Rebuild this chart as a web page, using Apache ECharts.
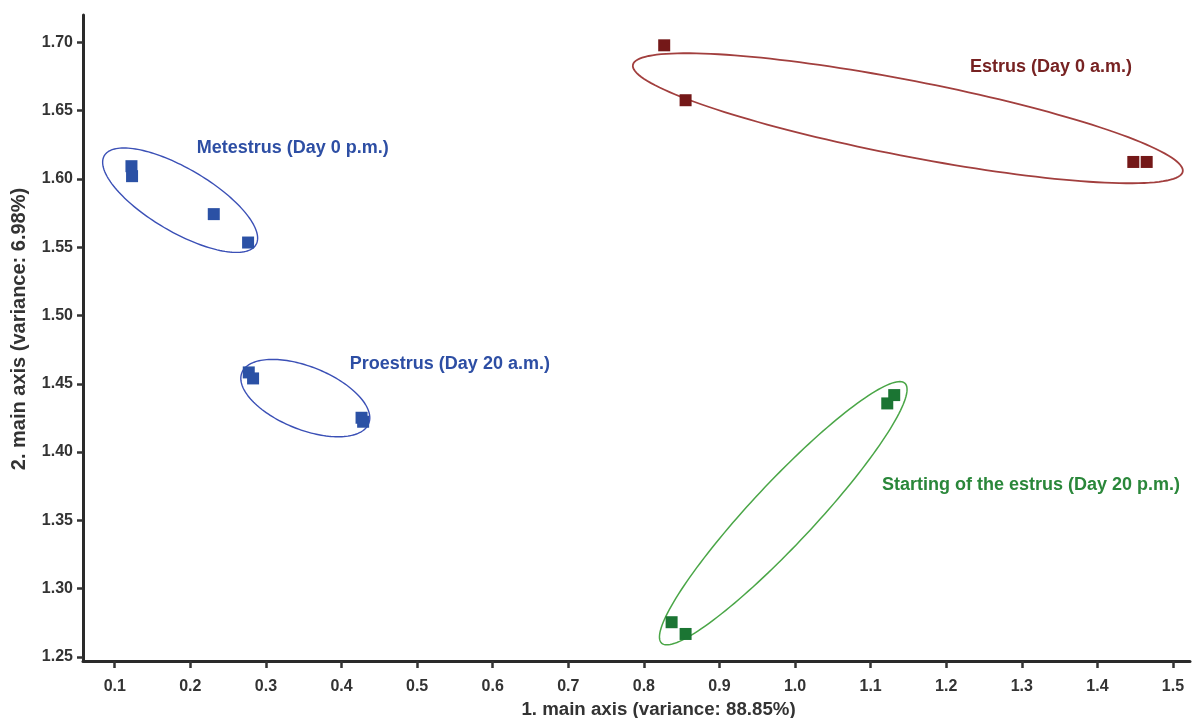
<!DOCTYPE html>
<html><head><meta charset="utf-8">
<script src="https://cdn.jsdelivr.net/npm/echarts@6/dist/echarts.min.js"></script>
<style>html,body{margin:0;padding:0;background:#fff}#c{width:1192px;height:718px}</style>
</head><body><div id="c"></div>
<script>
// ---- data ----
const xTicks = [0.1,0.2,0.3,0.4,0.5,0.6,0.7,0.8,0.9,1.0,1.1,1.2,1.3,1.4,1.5];
const yTicks = [1.25,1.30,1.35,1.40,1.45,1.50,1.55,1.60,1.65,1.70];
const metestrus   = [[0.1221,1.6093],[0.1229,1.6020],[0.2310,1.5742],[0.2764,1.5534]];
const proestrus   = [[0.2773,1.4583],[0.2830,1.4539],[0.4265,1.4251],[0.4286,1.4222]];
const estrus      = [[0.8269,1.6978],[0.8552,1.6576],[1.4475,1.6124],[1.4652,1.6124]];
const startEstrus = [[0.8367,1.2754],[0.8552,1.2668],[1.1220,1.4356],[1.1312,1.4417]];
const groupNames = ['Metestrus (Day 0 p.m.)','Proestrus (Day 20 a.m.)','Estrus (Day 0 a.m.)','Starting of the estrus (Day 20 p.m.)'];
const labelAnchors = [[0.2085,1.6224],[0.4110,1.4644],[1.2314,1.6817],[1.1150,1.3759]];
// ellipses: centre, end of major semi-axis, minor/major ratio
const ellipseCenters = [[0.1865,1.5844],[0.3521,1.4395],[1.1492,1.6444],[0.9844,1.3552]];
const ellipseEnds    = [[0.2868,1.5518],[0.4360,1.4209],[1.5129,1.6053],[1.1454,1.4503]];
const ellipseRatios  = [0.36,0.46,0.135,0.175];

// ---- styles ----
const markerColors  = ['#2b51a5','#2b51a5','#741818','#1b7533'];
const ellipseColors = ['#3b50b6','#3b50b6','#a23f3e','#4aa647'];
const labelColors   = ['#2d4ea4','#2d4ea4','#772222','#2a873a'];
const ellipseWidths = [1.4,1.4,1.8,1.5];
const FONT = '"Liberation Sans", Arial, sans-serif';

const chart = echarts.init(document.getElementById('c'), null, {renderer:'canvas'});
const groups = [metestrus, proestrus, estrus, startEstrus];

const series = groups.map((g,i)=>({
  type:'scatter', name:groupNames[i], data:g, symbol:'rect', symbolSize:12,
  itemStyle:{color:markerColors[i], opacity:1}, z:3
}));
series.push({
  type:'scatter', symbolSize:0, z:4,
  itemStyle:{opacity:1},
  data: labelAnchors.map((p,i)=>({value:p, label:{color:labelColors[i]}})),
  label:{show:true, position:'right', distance:0, fontFamily:FONT, fontWeight:'bold', fontSize:18,
    formatter:(p)=>groupNames[p.dataIndex]}
});
series.push({
  type:'custom', z:2, clip:false,
  data: ellipseCenters.map((c,i)=>[c[0],c[1],ellipseEnds[i][0],ellipseEnds[i][1],ellipseRatios[i],i]),
  encode:{x:0,y:1},
  renderItem:(params, api)=>{
    const c = api.coord([api.value(0), api.value(1)]);
    const e = api.coord([api.value(2), api.value(3)]);
    const dx=e[0]-c[0], dy=e[1]-c[1];
    const a=Math.hypot(dx,dy), th=Math.atan2(dy,dx), b=a*api.value(4);
    const pts=[];
    for(let k=0;k<=160;k++){
      const t=k/160*2*Math.PI, u=a*Math.cos(t), v=b*Math.sin(t);
      pts.push([c[0]+u*Math.cos(th)-v*Math.sin(th), c[1]+u*Math.sin(th)+v*Math.cos(th)]);
    }
    const i = api.value(5);
    return {type:'polygon', shape:{points:pts}, style:{fill:null, stroke:ellipseColors[i], lineWidth:ellipseWidths[i], opacity:1}};
  }
});

chart.setOption({
  animation:false,
  backgroundColor:'#fff',
  grid:{left:83, right:2, top:15, bottom:57, outerBoundsMode:'none'},
  xAxis:{
    type:'value', min:0.058, max:1.5225,
    name:'1. main axis (variance: 88.85%)', nameLocation:'middle', nameGap:38,
    nameTextStyle:{fontFamily:FONT, fontWeight:'bold', fontSize:18.7, color:'#333', padding:[0,0,0,44]},
    axisLine:{show:true, onZero:false, lineStyle:{color:'#2a2a2a', width:3}},
    axisTick:{show:true, length:7, customValues:xTicks, lineStyle:{color:'#333', width:2.5}},
    axisLabel:{customValues:xTicks, margin:18, fontFamily:FONT, fontWeight:'bold', fontSize:16, color:'#333',
      formatter:(v)=>v.toFixed(1)},
    splitLine:{show:false}
  },
  yAxis:{
    type:'value', min:1.247, max:1.72,
    name:'2. main axis (variance: 6.98%)', nameLocation:'middle', nameGap:54, nameRotate:90,
    nameTextStyle:{fontFamily:FONT, fontWeight:'bold', fontSize:20, color:'#333', padding:[0,0,0,18]},
    axisLine:{show:true, onZero:false, lineStyle:{color:'#2a2a2a', width:3}},
    axisTick:{show:true, length:6, customValues:yTicks, lineStyle:{color:'#333', width:2.5}},
    axisLabel:{customValues:yTicks, margin:10, fontFamily:FONT, fontWeight:'bold', fontSize:16, color:'#333',
      formatter:(v)=>v.toFixed(2)},
    splitLine:{show:false}
  },
  series
});
</script></body></html>
